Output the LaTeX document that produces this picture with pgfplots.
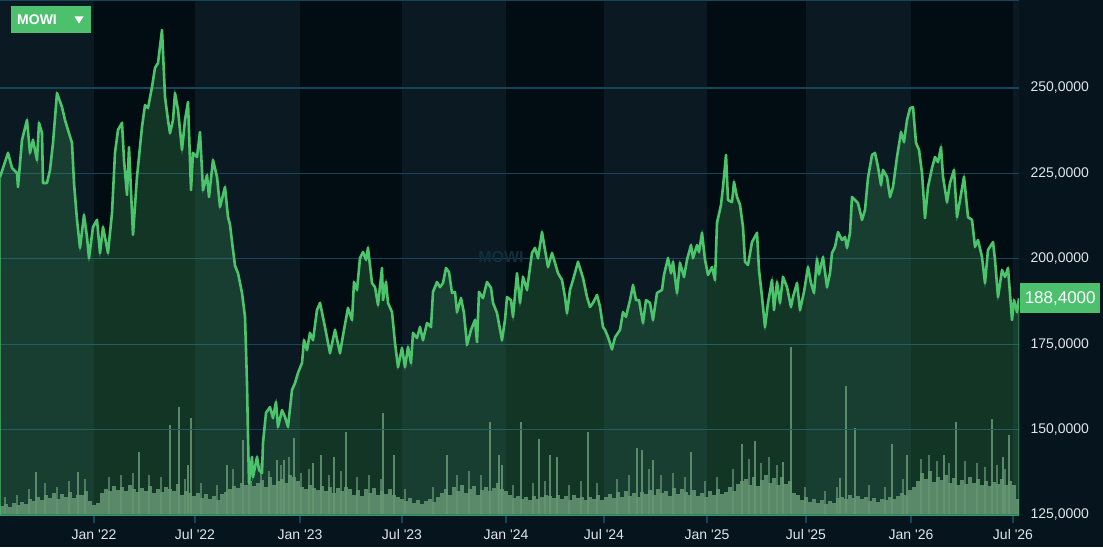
\documentclass[border=0pt]{standalone}
\usepackage{pgfplots}
\usepackage{pgfplotstable}
\pgfplotsset{compat=1.18}
\usepackage{fontspec}
\setmainfont{Liberation Sans}
\definecolor{bgc}{RGB}{5,20,29}
\definecolor{bandL}{RGB}{10,25,34}
\definecolor{bandD}{RGB}{2,13,19}
\definecolor{lg}{RGB}{76,196,108}
\definecolor{btn}{RGB}{77,192,110}
\definecolor{gridc}{RGB}{22,68,88}
\definecolor{volc}{RGB}{110,140,118}
\definecolor{txt}{RGB}{225,230,234}
\definecolor{wm}{RGB}{16,46,60}

\pgfplotstableread{
x y
0 223.9
3 226.6
8 231.0
12 226.6
17 225.1
18 221.0
22 234.8
27 240.6
30 231.0
33 234.8
37 228.9
39 239.8
42 236.8
43 222.2
47 222.2
50 226.0
53 233.9
57 248.5
62 244.4
65 240.6
68 237.7
72 233.9
74 222.2
77 211.4
80 203.2
84 212.8
87 206.4
89 200.2
93 209.3
97 211.4
100 201.7
103 209.3
108 201.7
112 213.4
115 231.0
118 237.7
122 239.8
124 228.9
127 218.7
129 232.7
133 207.0
137 224.0
142 238.6
145 245.0
148 244.1
152 250.3
155 255.9
158 257.3
162 267.0
165 247.4
168 240.6
170 236.8
173 240.6
175 248.5
178 243.6
182 231.9
185 240.6
188 245.9
191 220.1
193 231.0
197 229.8
200 237.1
203 220.1
207 224.5
209 218.1
213 228.9
217 224.0
220 215.2
225 221.0
228 212.2
230 210.0
232 205.0
235 198.0
238 195.8
242 190.0
245 183.0
247 163.6
248 148.0
249 134.4
252 142.0
253 136.1
257 142.0
259 138.2
262 137.3
263 146.1
266 154.9
270 156.6
273 153.4
276 158.1
278 150.8
282 155.7
285 153.7
288 150.8
292 161.6
295 163.6
298 166.6
302 169.5
304 176.2
307 173.3
310 178.3
313 176.2
317 185.0
320 187.1
325 180.0
330 172.4
335 179.2
340 172.4
344 179.2
348 185.6
352 182.1
354 193.2
357 190.9
360 200.2
363 202.0
366 199.7
368 203.2
372 192.9
375 191.7
378 186.5
382 197.3
383 187.9
386 193.2
388 187.1
392 184.4
395 175.4
398 168.3
402 173.9
405 168.3
408 174.2
411 169.5
413 178.3
417 176.8
420 180.0
423 176.2
427 181.2
431 180.0
433 190.3
437 193.2
440 191.7
443 192.9
446 197.3
449 196.1
452 190.0
455 190.3
457 184.4
461 188.5
464 184.1
467 174.8
471 179.2
475 182.1
477 175.6
479 190.3
483 188.5
487 193.2
491 191.5
493 187.1
497 184.1
502 176.2
505 182.1
507 188.8
511 187.9
513 183.0
517 195.8
520 187.1
523 194.7
527 190.9
532 201.7
535 203.2
538 200.2
542 207.8
545 202.6
548 197.6
552 201.7
555 198.8
558 195.8
562 193.8
565 188.8
567 184.1
570 190.9
573 193.8
578 199.1
583 194.4
587 188.8
590 185.9
593 187.1
597 189.4
600 186.0
603 180.0
605 179.2
608 177.1
612 173.5
615 177.0
620 179.2
623 184.4
626 183.0
630 187.9
633 192.3
636 187.9
639 187.9
643 181.2
646 187.9
650 187.1
653 182.1
657 190.0
662 190.9
664 195.3
668 200.2
671 195.8
673 199.1
677 190.0
680 198.8
684 194.7
687 199.7
691 204.0
693 200.2
697 204.0
699 202.0
702 207.6
705 199.7
708 195.3
712 197.6
715 193.8
717 210.5
721 215.8
723 221.0
726 230.4
728 217.2
732 216.6
734 222.5
737 218.1
740 215.8
743 209.3
745 199.1
748 198.2
752 204.9
757 207.6
759 196.7
762 188.8
765 180.0
768 187.1
772 193.8
774 185.0
777 193.2
780 187.1
783 194.7
787 191.7
791 185.9
793 188.8
797 192.9
800 185.0
804 190.3
808 197.6
811 192.9
814 190.0
817 200.0
819 195.5
823 200.5
827 191.7
830 195.8
832 201.7
835 203.5
838 207.8
842 205.5
845 206.4
847 203.2
850 207.6
852 218.1
855 217.2
858 216.3
862 211.4
865 214.3
868 223.7
872 230.4
875 231.0
878 226.9
881 221.6
883 226.0
887 224.0
890 218.1
893 221.0
897 229.8
901 237.1
904 234.2
907 240.6
910 244.1
913 244.4
916 233.9
919 231.9
922 225.1
925 211.9
928 221.0
932 226.6
935 229.8
938 228.3
941 232.7
943 224.0
947 216.6
950 222.2
954 226.0
957 212.2
960 217.2
964 224.0
968 212.2
972 211.4
975 203.5
978 205.5
982 200.5
985 192.9
988 202.6
993 204.9
995 199.7
998 188.8
1002 196.7
1005 194.7
1008 197.3
1012 182.1
1014 187.9
1017 184.4
1019 188.4
}\price

% regular daily-volume mass (one bar every 4 px)
\pgfplotstableread{
x v
2 0.45
6 0.55
10 0.4
14 0.6
18 0.5
22 0.65
26 0.55
30 0.8
34 0.7
38 0.9
42 0.75
46 1.0
50 0.85
54 1.1
58 0.8
62 1.05
66 0.9
70 1.15
74 0.85
78 1.0
82 1.0
86 1.2
90 0.7
94 0.5
98 0.6
102 1.1
106 1.3
110 1.2
114 1.45
118 1.25
122 1.4
126 1.2
130 1.5
134 1.3
138 1.15
142 1.35
146 1.2
150 1.45
154 1.1
158 1.3
162 1.15
166 1.4
170 1.3
174 1.2
178 1.55
182 1.0
186 1.2
190 1.1
194 0.95
198 1.1
202 0.85
206 1.05
210 0.8
214 0.95
218 0.75
222 1.05
226 1.15
230 1.3
234 1.45
238 1.35
242 1.6
246 1.5
250 1.7
254 1.45
258 1.6
262 1.75
266 1.4
270 1.9
274 1.5
278 1.7
282 1.8
286 1.6
290 2.0
294 1.9
298 1.7
302 1.4
306 1.3
310 1.5
314 1.35
318 1.25
322 1.45
326 1.2
330 1.4
334 1.1
338 1.35
342 1.2
346 1.4
350 1.3
354 1.0
358 1.25
362 0.95
366 1.3
370 1.1
374 1.35
378 1.0
382 1.2
386 1.05
390 1.3
394 1.0
398 0.9
402 0.8
406 0.7
410 0.85
414 0.6
418 0.75
422 0.55
426 0.7
430 0.8
434 0.65
438 0.9
442 1.1
446 1.3
450 1.0
454 1.4
458 1.2
462 1.5
466 1.1
470 1.3
474 1.45
478 1.0
482 1.25
486 1.4
490 1.2
494 1.35
498 1.6
502 1.3
506 1.2
510 1.0
514 0.85
518 0.95
522 0.8
526 0.9
530 0.75
534 0.95
538 0.8
542 0.9
546 1.0
550 0.95
554 0.85
558 1.0
562 0.8
566 0.95
570 0.75
574 1.0
578 0.85
582 0.9
586 0.75
590 0.9
594 0.8
598 1.0
602 0.75
606 0.9
610 1.05
614 0.85
618 1.15
622 0.9
626 1.2
630 0.95
634 1.1
638 0.9
642 1.15
646 1.05
650 1.25
654 1.0
658 1.3
662 1.1
666 1.2
670 0.95
674 1.35
678 1.05
682 1.3
686 1.15
690 1.0
694 1.25
698 0.95
702 1.1
706 0.9
710 1.2
714 1.0
718 1.3
722 1.05
726 1.15
730 1.4
734 1.2
738 1.55
742 1.7
746 1.8
750 1.5
754 1.9
758 1.45
762 1.75
766 2.0
770 1.6
774 1.85
778 1.5
782 1.9
786 1.55
790 1.7
794 1.1
798 1.0
802 0.75
806 0.9
810 0.65
814 0.8
818 0.6
822 0.75
826 0.55
830 0.7
834 0.6
838 0.85
842 0.9
846 0.8
850 1.0
854 0.85
858 0.95
862 0.8
866 0.9
870 0.7
874 0.85
878 0.65
882 0.8
886 0.75
890 0.9
894 0.8
898 0.95
902 1.1
906 1.0
910 1.25
914 1.4
918 1.7
922 2.1
926 1.8
930 2.2
934 1.65
938 1.9
942 1.75
946 2.0
950 1.6
954 1.85
958 1.5
962 1.75
966 1.55
970 1.9
974 1.6
978 1.8
982 1.5
986 1.7
990 1.45
994 1.65
998 1.55
1002 1.8
1006 1.5
1010 1.7
1014 1.5
1017 0.8
}\volume

% somewhat busier days poking above the mass
\pgfplotstableread{
x v
5 0.9
17 1.0
29 1.3
45 1.6
57 1.4
69 1.7
85 1.8
109 1.9
121 2.0
133 2.1
149 2.0
161 1.9
185 1.8
201 1.6
217 1.5
233 2.3
249 2.4
261 2.6
269 2.2
281 2.5
289 2.9
301 2.1
309 2.3
329 2.0
341 2.2
357 1.9
369 2.0
381 1.8
405 1.3
433 1.4
457 2.0
469 2.2
481 2.0
513 1.5
533 1.6
545 1.7
569 1.5
581 1.7
597 1.6
617 1.8
629 2.0
649 2.3
661 2.0
673 2.1
685 1.9
705 1.7
717 1.9
733 2.3
749 2.8
761 2.6
769 2.9
777 2.5
805 1.4
825 1.2
837 1.4
869 1.5
885 1.4
903 1.8
921 2.8
929 3.0
937 2.7
949 2.6
965 2.7
977 2.6
985 2.4
997 2.5
1005 2.3
}\midvol

% isolated high-volume days
\pgfplotstableread{
x v
36 2.15
78 2.15
139 3.15
170 4.5
179 5.4
188 2.5
191 4.85
227 2.5
243 3.75
277 2.75
284 2.75
294 3.85
313 2.6
321 3.0
334 2.9
346 4.15
383 5.1
394 3.0
447 3.0
490 4.65
499 3.0
502 2.5
521 4.65
539 3.8
550 3.0
557 2.9
588 4.15
637 3.35
642 3.25
653 2.75
691 3.15
742 3.55
755 3.7
783 2.65
791 8.4
840 1.85
846 6.45
855 4.35
892 3.55
907 3.0
944 3.0
956 4.65
992 4.8
1003 2.9
1009 4.0
}\spikes

\begin{document}
\begin{tikzpicture}[x=1pt,y=1pt]
\fill[bgc] (0,0) rectangle (1103,547);
% volume axis (background bands + volume)
\begin{axis}[at={(0pt,32pt)}, anchor=south west, scale only axis,
  width=1019pt, height=515pt, xmin=0, xmax=1019, ymin=0, ymax=25.75,
  enlargelimits=false, axis lines=none, clip mode=individual]
  \fill[bandL] (axis cs:0,0) rectangle (axis cs:94,25.75);
  \fill[bandD] (axis cs:94,0) rectangle (axis cs:195,25.75);
  \fill[bandL] (axis cs:195,0) rectangle (axis cs:300,25.75);
  \fill[bandD] (axis cs:300,0) rectangle (axis cs:402,25.75);
  \fill[bandL] (axis cs:402,0) rectangle (axis cs:506,25.75);
  \fill[bandD] (axis cs:506,0) rectangle (axis cs:604,25.75);
  \fill[bandL] (axis cs:604,0) rectangle (axis cs:707,25.75);
  \fill[bandD] (axis cs:707,0) rectangle (axis cs:806,25.75);
  \fill[bandL] (axis cs:806,0) rectangle (axis cs:911,25.75);
  \fill[bandD] (axis cs:911,0) rectangle (axis cs:1013,25.75);
  \fill[bandL] (axis cs:1013,0) rectangle (axis cs:1019,25.75);
  \addplot[ycomb, draw=volc, line width=1.6pt, opacity=0.7] table[x=x,y=v] {\midvol};
  \addplot[ycomb, draw=volc, line width=3.6pt, opacity=0.85] table[x=x,y=v] {\volume};
  \addplot[ycomb, draw=volc, line width=1.6pt, opacity=0.85] table[x=x,y=v] {\spikes};
\end{axis}
% price axis
\begin{axis}[at={(0pt,32pt)}, anchor=south west, scale only axis,
  width=1019pt, height=515pt, xmin=0, xmax=1019, ymin=125, ymax=275.76,
  enlargelimits=false, clip mode=individual,
  separate axis lines,
  x axis line style={draw=gridc, line width=1.3pt},
  y axis line style={draw=none},
  xtick={94,195,300,402,506,604,707,806,911,1013},
  xticklabels={Jan \textquotesingle22, Jul \textquotesingle22, Jan \textquotesingle23, Jul \textquotesingle23, Jan \textquotesingle24, Jul \textquotesingle24, Jan \textquotesingle25, Jul \textquotesingle25, Jan \textquotesingle26, Jul \textquotesingle26},
  ytick={125,150,175,200,225,250},
  yticklabels={{125,0000},{150,0000},{175,0000},{200,0000},{225,0000},{250,0000}},
  xtick pos=left, ytick pos=right, xticklabel pos=left, yticklabel pos=right,
  tick align=outside, major tick length=8pt,
  xtick style={draw=gridc, line width=1.2pt},
  ytick style={draw=none},
  ymajorgrids, grid style={draw=gridc, line width=1.3pt},
  ticklabel style={font=\fontsize{14}{16}\selectfont, text=txt},
  xticklabel style={anchor=north, yshift=-3pt},
  yticklabel style={anchor=west, xshift=0pt},
]
  \addplot[draw=lg, line width=1pt, fill=lg, fill opacity=0.22] table[x=x,y=y] {\price} \closedcycle;
  \node[font=\bfseries\fontsize{16}{18}\selectfont, text=wm] at (axis cs:501,200.5) {MOWI};
  \addplot[draw=lg, line width=2.6pt, line join=round] table[x=x,y=y] {\price};
  \node[fill=btn, text=white, anchor=west, minimum width=80pt, minimum height=30pt, inner sep=0pt,
        font=\fontsize{17}{19}\selectfont] at (axis cs:1020,188.4) {188,4000};
\end{axis}
% symbol button
\fill[btn] (11,514) rectangle (91,541);
\node[anchor=west, text=white, font=\bfseries\fontsize{14}{16}\selectfont, inner sep=0pt] at (17,527.5) {MOWI};
\fill[white] (74.5,530.5) -- (83.5,530.5) -- (79,523.5) -- cycle;
\pgfresetboundingbox
\path (0,0) rectangle (1103,547);
\end{tikzpicture}
\end{document}
